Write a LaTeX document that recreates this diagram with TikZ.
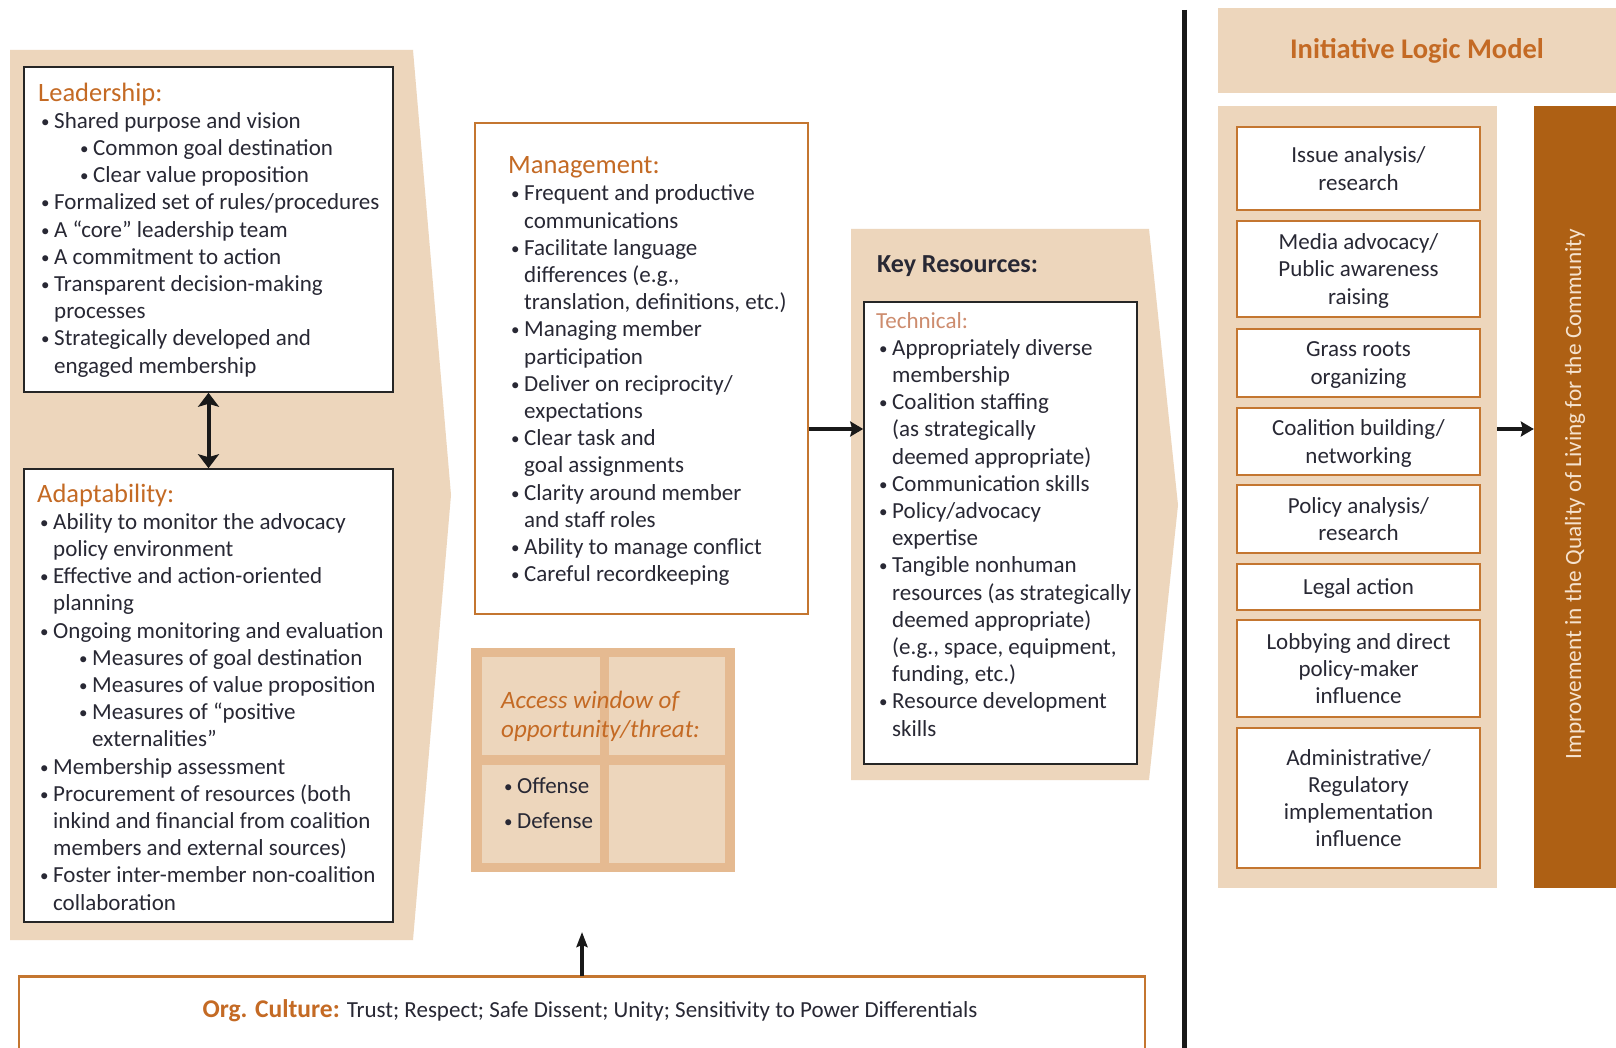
\documentclass[tikz,border=0pt]{standalone}
\usepackage{fontspec}
\setmainfont{Carlito}
\usepackage{tikz}
\usetikzlibrary{arrows.meta,positioning}
\definecolor{tanfill}{RGB}{237,214,188}
\definecolor{tandark}{RGB}{229,186,145}
\definecolor{headorange}{RGB}{196,106,36}
\definecolor{boxorange}{RGB}{196,118,48}
\definecolor{techorange}{RGB}{205,140,110}
\definecolor{barbrown}{RGB}{174,96,20}
\definecolor{bartext}{RGB}{245,226,206}
\definecolor{textdark}{RGB}{40,40,52}
\newcommand{\bodyfont}{\fontsize{23}{27.2}\selectfont}
\newcommand{\headfont}{\fontsize{26.5}{27.2}\selectfont}
\newcommand{\bdot}{\raisebox{1pt}{\fontsize{17}{17}\selectfont\textbullet}}
\newcommand{\bl}{\hspace*{3pt}\makebox[13pt][l]{\bdot}}
\newcommand{\cn}{\hspace*{16pt}}
\newcommand{\sbl}{\hspace*{42pt}\makebox[13pt][l]{\bdot}}
\newcommand{\scn}{\hspace*{55pt}}
\tikzset{
  bbox/.style   ={rectangle, draw=black!85, line width=1.6pt, fill=white, inner sep=0pt},
  obox/.style   ={rectangle, draw=boxorange, line width=1.6pt, fill=white, inner sep=0pt},
  actbox/.style ={obox, outer sep=0pt, minimum width=243pt, align=center, text=textdark,
                  text depth=0pt, font=\fontsize{23}{27.2}\selectfont},
  tanbox/.style ={rectangle, fill=tanfill, draw=none, inner sep=0pt},
  txt/.style    ={anchor=north west, align=left, inner sep=0pt, text=textdark, font=\bodyfont},
  flow/.style   ={-{Stealth[length=13pt,width=15pt,inset=2pt]}, line width=3.5pt, draw=black!90},
  upflow/.style ={-{Stealth[length=15pt,width=11pt,inset=2pt]}, line width=3.5pt, draw=black!90},
  dflow/.style  ={{Stealth[length=14pt,width=21pt,inset=3pt]}-{Stealth[length=14pt,width=21pt,inset=3pt]},
                  line width=4pt, draw=black!90}
}

\begin{document}
\begin{tikzpicture}[x=1pt, y=-1pt, node distance=11pt]
\clip (0,0) rectangle (1616,1048);
\fill[white] (0,0) rectangle (1616,1048);

% left panel
\fill[tanfill] (10,50) -- (413,50) -- (451,495) -- (413,940) -- (10,940) -- cycle;
\node[bbox, minimum width=369pt, minimum height=325pt] (lead) at (208.5,229.5) {};
\node[txt] (leadtxt) at (38,82.5) {%
  {\color{headorange}\headfont Leadership:}\\
  \bl Shared purpose and vision\\
  \sbl Common goal destination\\
  \sbl Clear value proposition\\
  \bl Formalized set of rules/procedures\\
  \bl A ``core'' leadership team\\
  \bl A commitment to action\\
  \bl Transparent decision-making\\
  \cn processes\\
  \bl Strategically developed and\\
  \cn engaged membership};
\node[bbox, minimum width=369pt, minimum height=453pt] (adapt) at (208.5,695.5) {};
\node[txt] (adapttxt) at (37,483.5) {%
  {\color{headorange}\headfont Adaptability:}\\
  \bl Ability to monitor the advocacy\\
  \cn policy environment\\
  \bl Effective and action-oriented\\
  \cn planning\\
  \bl Ongoing monitoring and evaluation\\
  \sbl Measures of goal destination\\
  \sbl Measures of value proposition\\
  \sbl Measures of ``positive\\
  \scn externalities''\\
  \bl Membership assessment\\
  \bl Procurement of resources (both\\
  \cn inkind and financial from coalition\\
  \cn members and external sources)\\
  \bl Foster inter-member non-coalition\\
  \cn collaboration};
\draw[dflow] (lead.south) -- (adapt.north);

% management
\node[obox, minimum width=333pt, minimum height=491pt] (mgmt) at (641.5,368.5) {};
\node[txt] (mgmttxt) at (508,156.5) {%
  {\color{headorange}\headfont Management:}\\
  \bl Frequent and productive\\
  \cn communications\\
  \bl Facilitate language\\
  \cn differences (e.g.,\\
  \cn translation, definitions, etc.)\\
  \bl Managing member\\
  \cn participation\\
  \bl Deliver on reciprocity/\\
  \cn expectations\\
  \bl Clear task and\\
  \cn goal assignments\\
  \bl Clarity around member\\
  \cn and staff roles\\
  \bl Ability to manage conflict\\
  \bl Careful recordkeeping};

% access window
\node[tanbox, fill=tandark, minimum width=264pt, minimum height=224pt] (access) at (603,760) {};
\fill[tanfill] (482,657) rectangle (725,863);
\fill[tandark] (599.5,657) rectangle (608.5,863);
\fill[tandark] (482,755) rectangle (725,765);
\node[txt, text=headorange, font=\fontsize{25}{28.5}\selectfont\itshape] (accesstxt) at (501,691)
  {Access window of\\opportunity/threat:};
\node[txt] (accesslist) at (501,777) {\bl Offense\\[8pt]\bl Defense};

% key resources
\fill[tanfill] (851,229) -- (1149,229) -- (1178,505) -- (1149,780) -- (851,780) -- cycle;
\node[anchor=west, inner sep=0pt, text=textdark, font=\fontsize{26}{28}\selectfont\bfseries] (krtitle) at (877,266) {Key Resources:};
\node[bbox, minimum width=273pt, minimum height=462pt] (tech) at (1000.5,533) {};
\node[txt] (techtxt) at (876,312) {%
  {\color{techorange}Technical:}\\
  \bl Appropriately diverse\\
  \cn membership\\
  \bl Coalition staffing\\
  \cn (as strategically\\
  \cn deemed appropriate)\\
  \bl Communication skills\\
  \bl Policy/advocacy\\
  \cn expertise\\
  \bl Tangible nonhuman\\
  \cn resources (as strategically\\
  \cn deemed appropriate)\\
  \cn (e.g., space, equipment,\\
  \cn funding, etc.)\\
  \bl Resource development\\
  \cn skills};
\coordinate (ymid) at (0,429);
\draw[flow] (mgmt.east |- ymid) -- (tech.west |- ymid);

% org culture
\node[rectangle, draw=boxorange, line width=1.5pt, minimum width=1126pt, minimum height=140pt] (culture) at (582,1047) {};
\draw[boxorange, line width=3pt] (culture.north west) -- (culture.north east);
\node[inner sep=0pt, text=textdark, font=\fontsize{23}{26}\selectfont] (culturetxt) at (590,1011)
  {{\color{headorange}\fontsize{25.5}{26}\selectfont\bfseries Org. Culture:} Trust; Respect; Safe Dissent; Unity; Sensitivity to Power Differentials};
\coordinate (uptip) at (582,932);
\draw[upflow] (culture.north -| uptip) -- (uptip);

% divider
\draw[line width=5pt, black!90] (1184,10) -- (1184,1048);

% initiative logic model
\node[tanbox, minimum width=398pt, minimum height=85pt, text=headorange,
      font=\fontsize{28.5}{30}\selectfont\bfseries] (ilm) at (1417,50.5) {Initiative Logic Model};
\node[tanbox, minimum width=279pt, minimum height=782pt] (acts) at (1357.5,497) {};
\node[actbox, minimum height=83pt, anchor=north] (a1) at (1358.5,127) {Issue analysis/\\research};
\node[actbox, minimum height=96pt, below=of a1] (a2) {Media advocacy/\\Public awareness\\raising};
\node[actbox, minimum height=68pt, below=12pt of a2] (a3) {Grass roots\\organizing};
\node[actbox, minimum height=67pt, below=of a3] (a4) {Coalition building/\\networking};
\node[actbox, minimum height=68pt, below=10pt of a4] (a5) {Policy analysis/\\research};
\node[actbox, minimum height=46pt, below=of a5] (a6) {Legal action};
\node[actbox, minimum height=97pt, below=10pt of a6] (a7) {Lobbying and direct\\policy-maker\\influence};
\node[actbox, minimum height=140pt, below=of a7] (a8) {Administrative/\\Regulatory\\implementation\\influence};
\node[rectangle, fill=barbrown, minimum width=82pt, minimum height=782pt] (qual) at (1575,497) {};
\node[rotate=90, inner sep=0pt, text=bartext, font=\fontsize{23.3}{26}\selectfont] (qualtxt) at (1575,494)
  {Improvement in the Quality of Living for the Community};
\draw[flow] (acts.east |- ymid) -- (qual.west |- ymid);
\end{tikzpicture}
\end{document}
